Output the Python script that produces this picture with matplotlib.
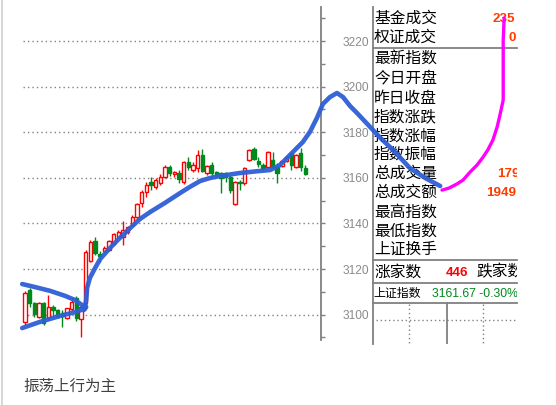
import matplotlib
matplotlib.use("Agg")
import matplotlib.pyplot as plt
from matplotlib.ticker import MultipleLocator
import numpy as np

# ---------------- data ----------------
opens = [3096.8, 3110.8, 3105.1, 3098.9, 3105.1, 3098.5, 3103.3, 3102.0, 3100.7, 3098.5,
         3102.5, 3107.3, 3098.1, 3105.1, 3123.5, 3132.3, 3126.6, 3127.9, 3128.3, 3131.0,
         3134.0, 3134.0, 3136.2, 3139.3, 3142.8, 3148.9, 3153.8, 3158.2, 3156.0, 3157.7,
         3160.4, 3164.7, 3161.7, 3162.1, 3158.2, 3166.9, 3163.4, 3164.3, 3170.0, 3162.1,
         3165.6, 3162.5, 3162.1, 3162.1, 3160.4, 3148.5, 3158.2, 3157.7, 3167.8, 3172.6,
         3167.4, 3165.6, 3164.7, 3167.8, 3164.7, 3165.2, 3167.4, 3170.9, 3164.7, 3170.9,
         3164.3]
highs = [3110.5, 3111.7, 3105.5, 3105.5, 3105.5, 3108.6, 3104.2, 3102.5, 3102.0, 3102.9,
         3107.7, 3108.2, 3104.2, 3128.3, 3132.7, 3134.0, 3127.9, 3130.0, 3132.7, 3136.0,
         3137.0, 3141.1, 3139.0, 3143.5, 3149.0, 3154.5, 3158.0, 3160.4, 3160.0, 3161.5,
         3165.5, 3165.6, 3163.0, 3163.4, 3167.5, 3169.1, 3166.9, 3172.2, 3172.6, 3165.6,
         3166.9, 3163.0, 3162.5, 3162.5, 3161.2, 3158.6, 3159.0, 3164.7, 3172.6, 3173.5,
         3169.1, 3166.5, 3171.7, 3171.3, 3166.5, 3168.0, 3169.5, 3171.3, 3170.5, 3173.1,
         3165.6]
lows = [3095.4, 3103.3, 3098.9, 3098.5, 3095.4, 3097.6, 3098.5, 3098.5, 3094.6, 3098.1,
        3101.6, 3097.2, 3090.2, 3104.2, 3123.1, 3126.1, 3123.1, 3127.0, 3127.9, 3130.5,
        3133.5, 3130.5, 3135.5, 3138.5, 3142.0, 3147.0, 3151.5, 3154.6, 3155.1, 3157.0,
        3160.0, 3160.8, 3160.4, 3157.7, 3157.5, 3163.4, 3162.5, 3162.5, 3162.5, 3161.2,
        3159.9, 3159.9, 3153.3, 3158.2, 3153.3, 3148.0, 3154.6, 3157.0, 3167.4, 3167.8,
        3164.7, 3163.4, 3164.3, 3164.3, 3157.7, 3164.7, 3167.0, 3163.4, 3164.3, 3163.0,
        3161.2]
closes = [3109.5, 3105.1, 3100.3, 3105.1, 3096.3, 3103.3, 3102.0, 3099.4, 3099.4, 3102.9,
          3105.5, 3098.5, 3103.3, 3127.5, 3131.8, 3127.0, 3125.7, 3129.2, 3132.3, 3135.4,
          3136.2, 3137.1, 3138.4, 3142.8, 3148.5, 3153.8, 3156.8, 3156.8, 3159.0, 3160.4,
          3164.7, 3162.1, 3162.5, 3159.5, 3166.9, 3164.7, 3165.6, 3170.0, 3163.0, 3165.2,
          3162.1, 3160.8, 3159.9, 3160.4, 3154.6, 3158.2, 3157.7, 3164.3, 3172.2, 3168.2,
          3166.1, 3164.3, 3171.3, 3164.7, 3162.1, 3167.4, 3169.1, 3165.6, 3170.0, 3164.7,
          3161.7]

y_ticks = [3100, 3120, 3140, 3160, 3180, 3200, 3220]
y_tick_labels = ["3100", "3120", "3140", "3160", "3180", "3200", "3220"]

panel_labels = ["基金成交", "权证成交", "最新指数", "今日开盘", "昨日收盘", "指数涨跌",
                "指数涨幅", "指数振幅", "总成交量", "总成交额", "最高指数", "最低指数", "上证换手"]
panel_values = {"基金成交": "235", "权证成交": "0", "总成交量": "179", "总成交额": "1949"}
up_count_label = "涨家数"
up_count = "446"
down_count_label = "跌家数"
index_name = "上证指数"
index_value = "3161.67"
index_change = "-0.30%"
caption = "振荡上行为主"

# hand-drawn annotation strokes, in (bar index, price) coordinates
blue_main_x = [-0.6, 3.2, 7.5, 10.7, 12.8, 13.1, 13.3, 13.9, 15.0, 16.1, 18.2, 20.3, 22.5,
               24.6, 26.8, 29.9, 33.2, 35.3, 37.5, 39.6, 41.8, 46.0, 50.3, 52.5, 54.6, 56.1,
               57.8, 59.5, 61.0, 62.5, 63.8, 65.3, 66.8, 68.1, 69.6, 71.1, 73.9, 76.1, 78.8,
               82.4, 85.7, 88.9]
blue_main_y = [3094.1, 3096.8, 3099.4, 3101.1, 3102.5, 3106.4, 3111.7, 3116.1, 3120.4, 3124.4,
               3129.2, 3133.6, 3137.9, 3141.9, 3145.0, 3148.9, 3153.3, 3156.0, 3158.6, 3159.9,
               3160.8, 3162.1, 3163.0, 3163.4, 3165.6, 3168.7, 3172.2, 3175.7, 3180.1, 3186.2,
               3192.4, 3195.4, 3197.2, 3195.4, 3191.5, 3188.4, 3182.3, 3177.5, 3172.2, 3164.3,
               3159.9, 3156.4]
blue_top_x = [-0.6, 2.1, 5.4, 8.6, 10.7, 12.2, 13.1, 12.6]
blue_top_y = [3113.4, 3112.1, 3110.4, 3108.2, 3106.4, 3104.2, 3103.3, 3102.0]
magenta_x = [102.6, 102.4, 102.4, 102.4, 101.7, 101.1, 100.2, 99.1, 98.1, 96.8, 95.3,
             93.8, 92.5, 90.8, 89.3]
magenta_y = [3230.1, 3220.4, 3207.3, 3194.1, 3187.5, 3182.3, 3176.6, 3172.2, 3169.1, 3165.6,
             3162.5, 3159.0, 3157.3, 3155.5, 3154.6]

# ---------------- figure ----------------
W, H = 556, 405
fig = plt.figure(figsize=(W / 100, H / 100), dpi=100)
fig.patch.set_facecolor("white")

CJK = ["Noto Sans CJK SC", "DejaVu Sans"]
GRAY = "#808080"
RED = "#ff0000"
GREEN = "#008a1e"
ORANGE = "#ff3c00"
BLUE = "#2f5fd6"

# full-figure overlay (pixel coords)
ov = fig.add_axes([0, 0, 1, 1], zorder=0)
ov.set_xlim(0, W)
ov.set_ylim(H, 0)
ov.axis("off")
ov.plot([2, 2], [0, H], color="#d0d0d0", lw=1.2)
ov.text(23, 386, caption, family=CJK, fontsize=11.2, color="#404040", va="center", ha="left")

# right info panel (pixel coords, clipped at right edge)
px0, px1, py0, py1 = 372, 517, 7, 344
pn = fig.add_axes([px0 / W, 1 - py1 / H, (px1 - px0) / W, (py1 - py0) / H], zorder=0.5)
pn.set_xlim(px0, px1)
pn.set_ylim(py1, py0)
pn.axis("off")
pn.plot([372.5, 372.5], [7, 343.5], color=GRAY, lw=1.3, clip_on=False)
for yy in [48, 260, 283, 303]:
    pn.plot([372.5, 517], [yy, yy], color=GRAY, lw=1.3, clip_on=False)
pn.plot([447, 447], [303, 343.5], color=GRAY, lw=1.3)
for xx in [409, 483]:
    pn.plot([xx, xx], [304, 343], color=GRAY, lw=1, ls=(0, (1, 2)))
pn.plot([376, 516], [320, 320], color=GRAY, lw=1, ls=(0, (1, 2)))

row_y = [18, 37, 59, 78, 98, 117, 136, 154, 173, 192, 212, 231, 249]
val_x = {"基金成交": 492, "权证成交": 508.5, "总成交量": 497, "总成交额": 486}
for lab, yy in zip(panel_labels, row_y):
    pn.text(374, yy, lab, family=CJK, fontsize=11.3, color="black", va="center", ha="left",
            clip_on=True)
    if lab in panel_values:
        pn.text(val_x[lab], yy + 1, panel_values[lab], family="Liberation Sans",
                fontweight="bold", fontsize=9.6, color=ORANGE, va="center", ha="left",
                clip_on=True)
pn.text(374, 272, up_count_label, family=CJK, fontsize=11.3, color="black",
        va="center", ha="left", clip_on=True)
pn.text(446, 273, up_count, family="Liberation Sans", fontweight="bold", fontsize=9.6,
        color=RED, va="center", ha="left", clip_on=True)
pn.text(476, 272, down_count_label, family=CJK, fontsize=11.3, color="black",
        va="center", ha="left", clip_on=True)
pn.text(373, 293, index_name, family=CJK, fontsize=8.6, color="black",
        va="center", ha="left", clip_on=True)
pn.text(432, 294, index_value + " " + index_change, family="Liberation Sans",
        fontsize=8.8, color=GREEN, va="center", ha="left", clip_on=True)

# main candlestick axes
ax = fig.add_axes([2 / W, 1 - 340 / H, 319 / W, 333 / H], zorder=1)
ax.patch.set_alpha(0)
x0i = (2 - 25) / 4.67
x1i = (321 - 25) / 4.67
ax.set_xlim(x0i, x1i)
ax.set_ylim(3220 - (340 - 41) / 2.28, 3220 + 34 / 2.28)

for s in ["left", "top", "bottom"]:
    ax.spines[s].set_visible(False)
ax.spines["right"].set_color(GRAY)
ax.spines["right"].set_linewidth(1.3)
ax.set_xticks([])
ax.yaxis.tick_right()
ax.set_yticks(y_ticks)
ax.set_yticklabels(y_tick_labels)
ax.yaxis.set_minor_locator(MultipleLocator(10))
ax.tick_params(axis="y", which="both", direction="out", length=3, width=1, colors=GRAY,
               labelsize=8.6, pad=12.5)
for t in ax.get_yticklabels():
    t.set_family("Liberation Sans")
    t.set_color("#8a8a8a")

gx0 = (23 - 2) / 319
gx1 = (318 - 2) / 319
for v in y_ticks:
    ax.axhline(v, xmin=gx0, xmax=gx1, color=GRAY, lw=1, ls=(0, (1, 2.2)), zorder=1)

idx = np.arange(len(opens))
for i in idx:
    o, h, l, c = opens[i], highs[i], lows[i], closes[i]
    up = c >= o
    col = RED if up else GREEN
    ax.vlines(i, l, h, color=col, lw=1, zorder=2)
    ax.bar(i, max(abs(c - o), 0.3), bottom=min(o, c), width=0.72,
           facecolor="white" if up else col, edgecolor=col, lw=1, zorder=3)

# annotation strokes
for xs, ys in [(blue_top_x, blue_top_y), (blue_main_x, blue_main_y)]:
    ax.plot(xs, ys, color=BLUE, lw=3.3, solid_capstyle="round",
            solid_joinstyle="round", alpha=0.95, clip_on=False, zorder=5)
ax.plot(magenta_x, magenta_y, color="#ff00ff", lw=2.4, solid_capstyle="round",
        solid_joinstyle="round", clip_on=False, zorder=5)

fig.savefig("out.png", dpi=100, facecolor="white")
